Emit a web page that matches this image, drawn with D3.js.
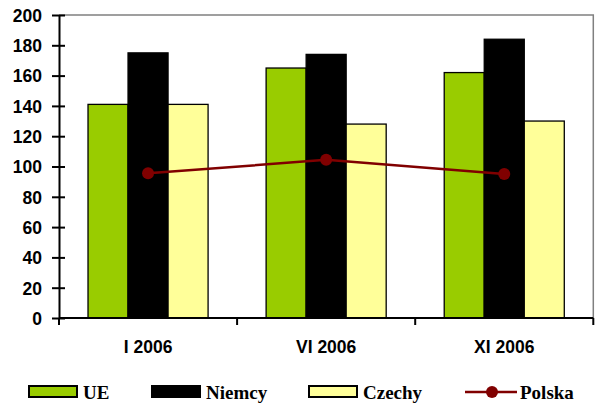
<!DOCTYPE html>
<html>
<head>
<meta charset="utf-8">
<script src="https://cdn.jsdelivr.net/npm/d3@7"></script>
<style>
  body { margin: 0; background: #fff; }
  svg { display: block; }
</style>
</head>
<body>
<div id="container"></div>
<script>
/* DATA */
const categories = ["I 2006", "VI 2006", "XI 2006"];
const barSeries = ["UE", "Niemcy", "Czechy"];
const ueValues = [141, 165, 162];
const niemcyValues = [175, 174, 184];
const czechyValues = [141, 128, 130];
const polskaValues = [95.5, 104.4, 95];
const yTicks = [0, 20, 40, 60, 80, 100, 120, 140, 160, 180, 200];

/* CONSTANTS */
const width = 596,
  height = 405,
  margin = { top: 15, bottom: 87, left: 59, right: 2.7 };

const colors = { UE: "#99cc00", Niemcy: "#000000", Czechy: "#ffff99", Polska: "#800000" };
const barValues = { UE: ueValues, Niemcy: niemcyValues, Czechy: czechyValues };

const svg = d3.select("#container")
  .append("svg")
  .attr("width", width)
  .attr("height", height);

// SCALES
const x0 = d3.scaleBand()
  .domain(categories)
  .range([margin.left, width - margin.right])
  .paddingInner(0)
  .paddingOuter(0);

const x1 = d3.scaleBand()
  .domain(barSeries)
  .range([0, x0.bandwidth()])
  .paddingInner(0)
  .paddingOuter(0.725);

const y = d3.scaleLinear()
  .domain([0, 200])
  .range([height - margin.bottom, margin.top]);

// plot area border (grey top and right)
svg.append("path")
  .attr("d", `M${margin.left},${y(200)}H${width - margin.right}V${y(0)}`)
  .attr("fill", "none")
  .attr("stroke", "#808080")
  .attr("stroke-width", 1.5);

// BARS
categories.forEach((cat, i) => {
  svg.append("g")
    .selectAll("rect")
    .data(barSeries)
    .join("rect")
    .attr("x", s => x0(cat) + x1(s))
    .attr("y", s => y(barValues[s][i]))
    .attr("width", x1.bandwidth())
    .attr("height", s => y(0) - y(barValues[s][i]))
    .attr("fill", s => colors[s])
    .attr("stroke", "#000")
    .attr("stroke-width", 1.3);
});

// LINE
const line = d3.line()
  .x((d, i) => x0(categories[i]) + x0.bandwidth() / 2)
  .y(d => y(d));

svg.append("path")
  .datum(polskaValues)
  .attr("d", line)
  .attr("fill", "none")
  .attr("stroke", colors.Polska)
  .attr("stroke-width", 2.5);

svg.selectAll("circle.polska")
  .data(polskaValues)
  .join("circle")
  .attr("class", "polska")
  .attr("cx", (d, i) => x0(categories[i]) + x0.bandwidth() / 2)
  .attr("cy", d => y(d))
  .attr("r", 6)
  .attr("fill", colors.Polska);

// Y AXIS
const yAxis = svg.append("g")
  .attr("transform", `translate(${margin.left},0)`)
  .call(d3.axisLeft(y).tickValues(yTicks).tickSize(0).tickPadding(17));
yAxis.select(".domain").attr("stroke", "#000").attr("stroke-width", 2);
yAxis.selectAll(".tick line")
  .attr("x1", -7).attr("x2", 6)
  .attr("stroke", "#000").attr("stroke-width", 2);
yAxis.selectAll("text")
  .attr("font-family", "'Liberation Sans', Arial, sans-serif")
  .attr("font-weight", "bold")
  .attr("font-size", 17.5)
  .attr("fill", "#000")
  .attr("dy", "0.36em");

// X AXIS
const xAxis = svg.append("g")
  .attr("transform", `translate(0,${y(0)})`);
xAxis.append("line")
  .attr("x1", margin.left).attr("x2", width - margin.right)
  .attr("stroke", "#000").attr("stroke-width", 2);
xAxis.selectAll("line.tick")
  .data([categories[0], ...categories])
  .join("line")
  .attr("class", "tick")
  .attr("x1", (d, i) => i === 0 ? x0(d) : x0(d) + x0.bandwidth())
  .attr("x2", (d, i) => i === 0 ? x0(d) : x0(d) + x0.bandwidth())
  .attr("y1", 0).attr("y2", 7)
  .attr("stroke", "#000").attr("stroke-width", 2);
xAxis.selectAll("text")
  .data(categories)
  .join("text")
  .attr("x", d => x0(d) + x0.bandwidth() / 2)
  .attr("y", 35)
  .attr("text-anchor", "middle")
  .attr("font-family", "'Liberation Sans', Arial, sans-serif")
  .attr("font-weight", "bold")
  .attr("font-size", 17.5)
  .text(d => d);

// LEGEND
const legendItems = ["UE", "Niemcy", "Czechy", "Polska"];
const legendX = [28, 151, 308, 465];
const legend = svg.append("g").attr("class", "legend");

legendItems.forEach((name, i) => {
  const g = legend.append("g").attr("transform", `translate(${legendX[i]},386)`);
  if (name === "Polska") {
    g.append("line")
      .attr("x1", 0).attr("x2", 52).attr("y1", 6).attr("y2", 6)
      .attr("stroke", colors.Polska).attr("stroke-width", 2.5);
    g.append("circle")
      .attr("cx", 27).attr("cy", 6).attr("r", 6)
      .attr("fill", colors.Polska);
  } else {
    g.append("rect")
      .attr("x", 1).attr("y", 0).attr("width", 48).attr("height", 11)
      .attr("fill", colors[name])
      .attr("stroke", "#000").attr("stroke-width", 2);
  }
  g.append("text")
    .attr("x", 55)
    .attr("y", 12.5)
    .attr("font-family", "'Liberation Serif', 'Times New Roman', serif")
    .attr("font-weight", "bold")
    .attr("font-size", 19)
    .text(name);
});
</script>
</body>
</html>
